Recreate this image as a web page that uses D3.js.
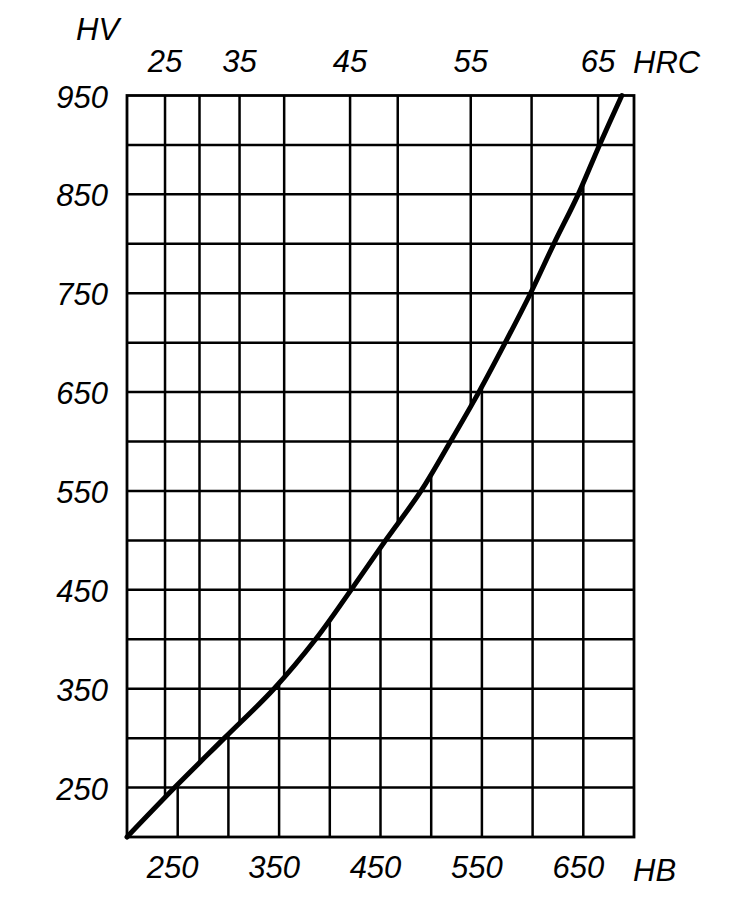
<!DOCTYPE html>
<html>
<head>
<meta charset="utf-8">
<script src="https://cdn.jsdelivr.net/npm/d3@7"></script>
<style>
  html, body { margin: 0; padding: 0; background: #fff; }
  svg text { font-family: "Liberation Sans", Arial, sans-serif; font-style: italic; fill: #000; }
</style>
</head>
<body>
<svg id="chart" width="729" height="897"></svg>
<script>
// ---- data ----
const curveHB = [200, 247, 296, 345, 386, 421, 455, 490, 519, 547, 573, 598, 621, 645, 666, 688];
const curveHV = [200, 250, 300, 350, 400, 450, 500, 550, 600, 650, 700, 750, 800, 850, 900, 950];
const hbGrid = [250, 300, 350, 400, 450, 500, 550, 600, 650];
const hbTickLabels = [250, 350, 450, 550, 650];
const hvGrid = [250, 300, 350, 400, 450, 500, 550, 600, 650, 700, 750, 800, 850, 900];
const hvTickLabels = [250, 350, 450, 550, 650, 750, 850, 950];
const hrcValues = [25, 30, 35, 40, 45, 50, 55, 60, 65];
const hrcAtHB = [237.5, 271.5, 311, 355, 420, 467, 539, 599, 664.5];
const hrcTickLabels = [25, 35, 45, 55, 65];
const hbDomain = [200, 700];
const hvDomain = [200, 950];

// ---- scales ----
const x = d3.scaleLinear().domain(hbDomain).range([127, 634]);
const y = d3.scaleLinear().domain(hvDomain).range([837, 95.5]);
const hvOnCurve = d3.scaleLinear().domain(curveHB).range(curveHV).clamp(true);
const hrcToHB = d3.scaleOrdinal().domain(hrcValues).range(hrcAtHB);

const svg = d3.select("#chart");
const g = svg.append("g");
const gridW = 2.5;

// horizontal grid lines
g.selectAll("line.h").data(hvGrid).enter().append("line")
  .attr("x1", x(hbDomain[0])).attr("x2", x(hbDomain[1]))
  .attr("y1", d => y(d)).attr("y2", d => y(d))
  .attr("stroke", "#000").attr("stroke-width", gridW);

// HB vertical lines: from bottom up to the curve
g.selectAll("line.hb").data(hbGrid).enter().append("line")
  .attr("x1", d => x(d)).attr("x2", d => x(d))
  .attr("y1", y(hvDomain[0])).attr("y2", d => y(hvOnCurve(d)))
  .attr("stroke", "#000").attr("stroke-width", gridW);

// HRC vertical lines: from top down to the curve
g.selectAll("line.hrc").data(hrcValues).enter().append("line")
  .attr("x1", d => x(hrcToHB(d))).attr("x2", d => x(hrcToHB(d)))
  .attr("y1", y(hvDomain[1])).attr("y2", d => y(hvOnCurve(hrcToHB(d))))
  .attr("stroke", "#000").attr("stroke-width", gridW);

// frame
g.append("rect")
  .attr("x", x(hbDomain[0])).attr("y", y(hvDomain[1]))
  .attr("width", x(hbDomain[1]) - x(hbDomain[0]))
  .attr("height", y(hvDomain[0]) - y(hvDomain[1]))
  .attr("fill", "none").attr("stroke", "#000").attr("stroke-width", 2.8);

// curve
const pts = curveHB.map((h, i) => [h, curveHV[i]]);
g.append("path")
  .datum(pts)
  .attr("d", d3.line().x(d => x(d[0])).y(d => y(d[1])).curve(d3.curveCatmullRom.alpha(0.5)))
  .attr("fill", "none").attr("stroke", "#000").attr("stroke-width", 5)
  .attr("stroke-linecap", "round").attr("stroke-linejoin", "round");

// left HV labels
svg.selectAll("text.hv").data(hvTickLabels).enter().append("text")
  .attr("x", 108).attr("y", d => y(d) + 12)
  .attr("text-anchor", "end").attr("font-size", 31)
  .text(d => d);

// bottom HB labels
svg.selectAll("text.hb").data(hbTickLabels).enter().append("text")
  .attr("x", d => x(d) - 5).attr("y", 878)
  .attr("text-anchor", "middle").attr("font-size", 31)
  .text(d => d);

// top HRC labels
svg.selectAll("text.hrc").data(hrcTickLabels).enter().append("text")
  .attr("x", d => x(hrcToHB(d))).attr("y", 72)
  .attr("text-anchor", "middle").attr("font-size", 31)
  .text(d => d);

// axis titles
svg.append("text").attr("x", 76).attr("y", 40).attr("font-size", 31).text("HV");
svg.append("text").attr("x", 633).attr("y", 73).attr("font-size", 31).text("HRC");
svg.append("text").attr("x", 633).attr("y", 881).attr("font-size", 31).text("HB");
</script>
</body>
</html>
